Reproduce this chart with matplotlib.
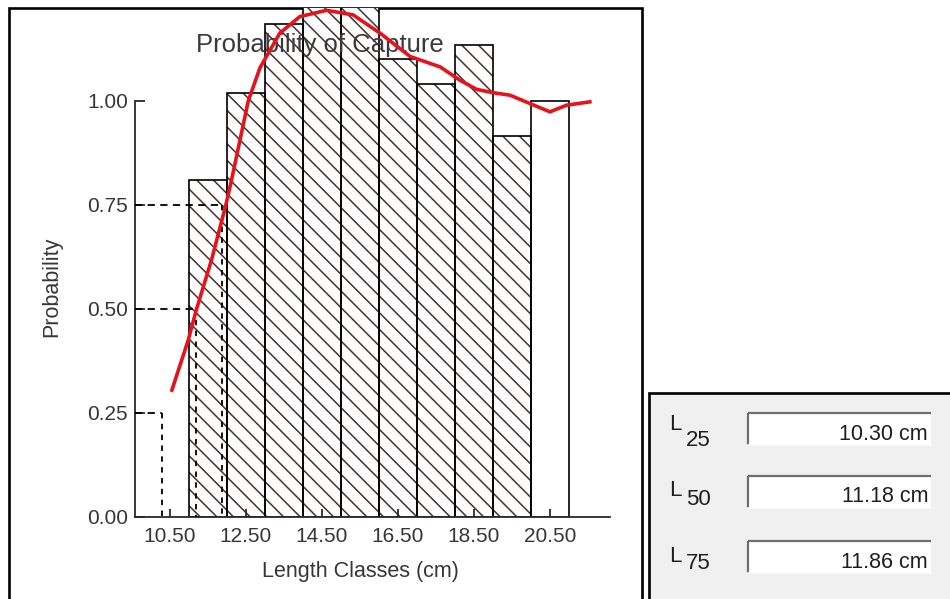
import matplotlib
matplotlib.use('Agg')
import matplotlib.pyplot as plt
from matplotlib.patches import Rectangle
import numpy as np

plt.rcParams['font.family'] = ['Liberation Sans', 'DejaVu Sans']
plt.rcParams['hatch.linewidth'] = 1.1

# length classes (bar centres) and probability of capture per class
classes = [11.5, 12.5, 13.5, 14.5, 15.5, 16.5, 17.5, 18.5, 19.5, 20.5]
prob = [0.81, 1.02, 1.185, 1.26, 1.25, 1.10, 1.04, 1.135, 0.915, 1.00]
hatched = [True, True, True, True, True, True, True, True, True, False]

# smoothed selection curve
curve_x = [10.55, 10.98, 11.20, 11.60, 11.97, 12.12, 12.56, 12.87, 13.39, 13.92,
           14.62, 15.32, 16.03, 16.82, 17.61, 18.13, 18.57, 19.00, 19.45, 19.97,
           20.50, 20.94, 21.55]
curve_y = [0.305, 0.425, 0.50, 0.62, 0.75, 0.81, 1.00, 1.08, 1.163, 1.203,
           1.218, 1.207, 1.163, 1.107, 1.082, 1.05, 1.028, 1.02, 1.014, 0.994,
           0.974, 0.99, 0.998]

# L25 / L50 / L75
l_names = ['25', '50', '75']
l_prob = [0.25, 0.50, 0.75]
l_vals = [10.30, 11.18, 11.86]

xticks = [10.5, 12.5, 14.5, 16.5, 18.5, 20.5]
yticks = [0.0, 0.25, 0.50, 0.75, 1.00]

txt = '#363636'
W, H = 950, 599
fig = plt.figure(figsize=(W / 100, H / 100), dpi=100)

# background canvas in pixel coordinates
bg = fig.add_axes([0, 0, 1, 1], zorder=0)
bg.set_xlim(0, W)
bg.set_ylim(H, 0)
bg.axis('off')
bg.add_patch(Rectangle((9, 8), 633, 600, facecolor='white', edgecolor='black', lw=1.9))
bg.add_patch(Rectangle((649, 393), 310, 220, facecolor='#f0f0f0', edgecolor='black', lw=1.9))

box_tops = [413, 476, 541]
sub_dy = [15, 9, 7]
for name, val, top, dy in zip(l_names, l_vals, box_tops, sub_dy):
    bg.add_patch(Rectangle((748, top), 183, 32, facecolor='white', edgecolor='none'))
    bg.plot([748, 931], [top, top], color='#6e6e6e', lw=1.6, solid_capstyle='butt')
    bg.plot([748, 748], [top, top + 32], color='#6e6e6e', lw=1.6, solid_capstyle='butt')
    bg.plot([748, 931], [top + 32, top + 32], color='#fbfbfb', lw=1.2)
    bg.text(928, top + 21, '%.2f cm' % val, ha='right', va='center', fontsize=15.5, color='#1e1e1e')
    bg.text(669, top + 12 + (15 - dy) * 0.4, 'L', ha='left', va='center', fontsize=16, color='#1e1e1e')
    bg.text(686, top + 12 + dy + (15 - dy) * 0.4, name, ha='left', va='center', fontsize=16, color='#1e1e1e')

# main chart
ax = fig.add_axes([135 / W, (H - 517) / H, 475 / W, 509 / H], zorder=1)
ax.patch.set_alpha(0)
ax.set_xlim(9.58, 22.08)
ax.set_ylim(0, 509 / 416)

for c, p, h in zip(classes, prob, hatched):
    if h:
        ax.bar(c, p, width=1.0, facecolor='white', edgecolor='#4a3030', hatch='\\\\', lw=0, zorder=1)
    ax.bar(c, p, width=1.0, facecolor='none', edgecolor='black', lw=1.2, zorder=2)

x0 = ax.get_xlim()[0]
for p, v in zip(l_prob, l_vals):
    ax.plot([x0, v], [p, p], color='black', lw=1.3, ls=(0, (4, 3)), zorder=3)
    ax.plot([v, v], [p, 0], color='black', lw=1.3, ls=(0, (3, 3)), zorder=3)

ax.text(0.389, 0.927, 'Probability of Capture', transform=ax.transAxes, ha='center', va='center',
        fontsize=18.5, color='#3a3a3a', zorder=4)
ax.plot(curve_x, curve_y, color='#e8121a', lw=2.6, zorder=5, solid_joinstyle='round')

ax.spines['top'].set_visible(False)
ax.spines['right'].set_visible(False)
ax.spines['left'].set_bounds(0, 1)
for s in ('left', 'bottom'):
    ax.spines[s].set_linewidth(1.3)
    ax.spines[s].set_color('#2a2a2a')

ax.set_xticks(xticks)
ax.set_xticklabels(['%.2f' % t for t in xticks])
ax.set_yticks(yticks)
ax.set_yticklabels(['%.2f' % t for t in yticks])
ax.tick_params(axis='both', direction='in', width=1.3, color='#2a2a2a', labelsize=15, labelcolor=txt)
ax.tick_params(axis='y', length=7, pad=5)
ax.tick_params(axis='x', length=6, pad=7)

ax.set_xlabel('Length Classes (cm)', fontsize=15.5, color=txt)
ax.xaxis.set_label_coords((360 - 135) / 475, (517 - 572) / 509)
ax.xaxis.label.set_va('center')
ax.set_ylabel('Probability', fontsize=15.5, color=txt)
ax.yaxis.set_label_coords((52 - 135) / 475, (517 - 287) / 509)
ax.yaxis.label.set_va('center')

fig.savefig('out.png', dpi=100)
